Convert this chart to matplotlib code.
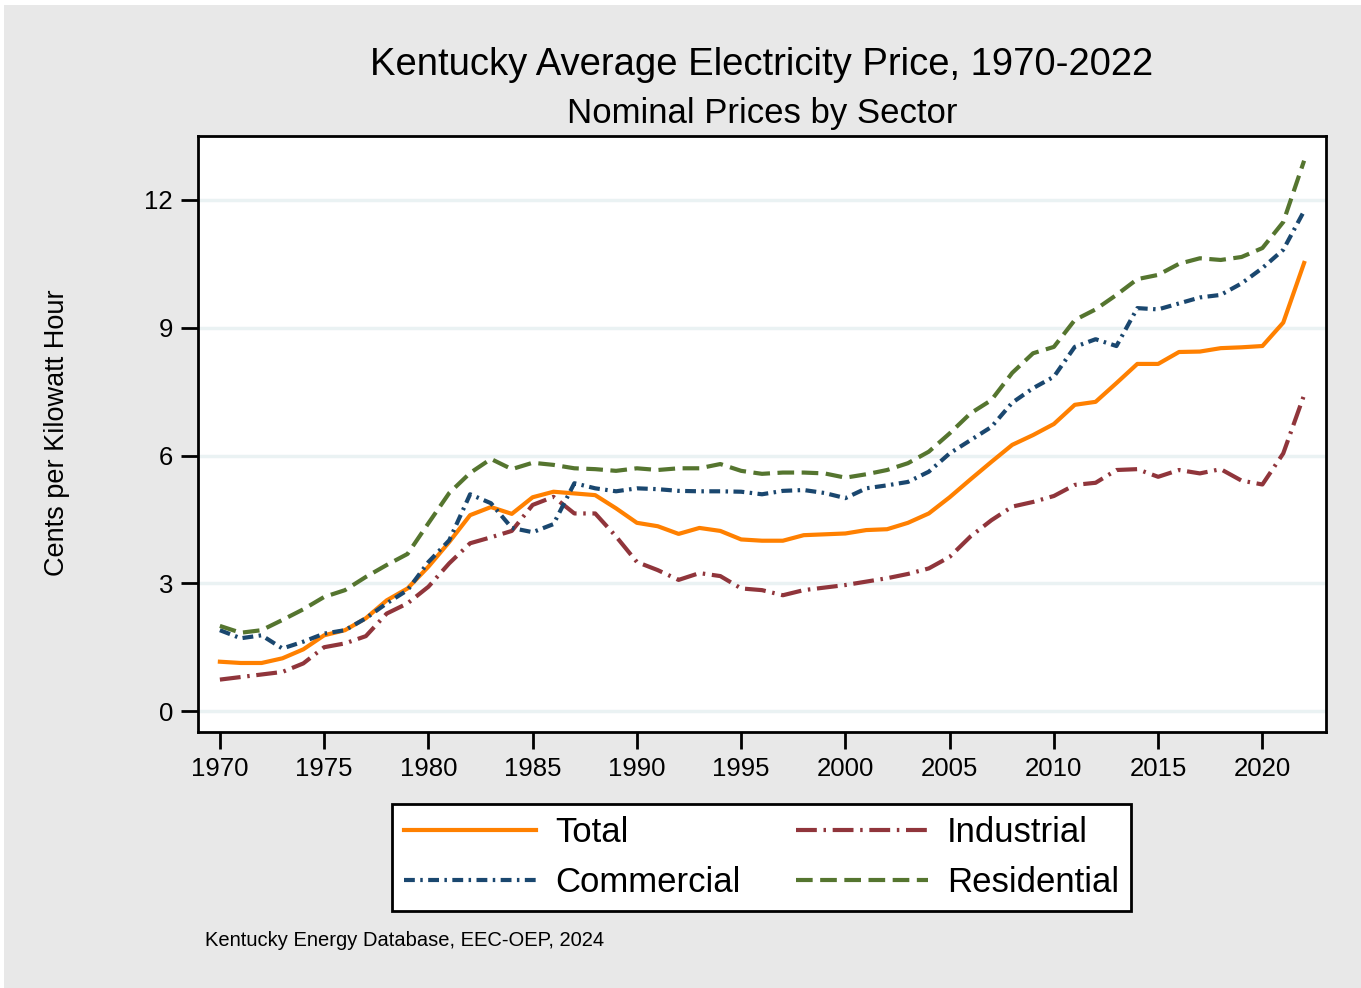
import numpy as np
import matplotlib.pyplot as plt
from matplotlib.patches import Rectangle

years = np.arange(1970, 2023)

total = [1.16, 1.13, 1.13, 1.24, 1.45, 1.78, 1.90, 2.18, 2.60, 2.88,
         3.39, 3.97, 4.60, 4.79, 4.63, 5.02, 5.15, 5.11, 5.07, 4.76,
         4.42, 4.34, 4.16, 4.30, 4.23, 4.03, 4.00, 4.00, 4.13, 4.15,
         4.17, 4.25, 4.27, 4.42, 4.64, 5.02, 5.44, 5.85, 6.25, 6.48,
         6.74, 7.19, 7.26, 7.70, 8.15, 8.15, 8.43, 8.44, 8.52, 8.54,
         8.57, 9.12, 10.52]
industrial = [0.74, 0.80, 0.86, 0.92, 1.12, 1.50, 1.59, 1.76, 2.29, 2.53,
              2.92, 3.47, 3.94, 4.08, 4.23, 4.84, 5.03, 4.64, 4.64, 4.10,
              3.50, 3.31, 3.08, 3.24, 3.17, 2.88, 2.84, 2.72, 2.84, 2.90,
              2.96, 3.04, 3.12, 3.22, 3.35, 3.62, 4.10, 4.48, 4.80, 4.91,
              5.05, 5.31, 5.36, 5.66, 5.68, 5.50, 5.66, 5.58, 5.68, 5.41,
              5.32, 6.05, 7.42]
commercial = [1.90, 1.71, 1.78, 1.47, 1.63, 1.82, 1.90, 2.18, 2.53, 2.84,
              3.50, 4.01, 5.09, 4.88, 4.30, 4.20, 4.39, 5.35, 5.23, 5.16,
              5.23, 5.21, 5.17, 5.16, 5.16, 5.15, 5.09, 5.17, 5.19, 5.12,
              5.00, 5.23, 5.30, 5.38, 5.62, 6.05, 6.36, 6.67, 7.24, 7.58,
              7.85, 8.55, 8.73, 8.57, 9.46, 9.43, 9.57, 9.71, 9.77, 10.04,
              10.40, 10.83, 11.74]
residential = [2.00, 1.84, 1.90, 2.14, 2.39, 2.68, 2.84, 3.15, 3.43, 3.69,
               4.41, 5.12, 5.59, 5.92, 5.68, 5.83, 5.78, 5.70, 5.68, 5.64,
               5.70, 5.66, 5.70, 5.70, 5.80, 5.64, 5.57, 5.60, 5.60, 5.58,
               5.48, 5.56, 5.66, 5.82, 6.09, 6.52, 6.99, 7.30, 7.94, 8.40,
               8.55, 9.18, 9.43, 9.77, 10.14, 10.24, 10.50, 10.63, 10.59, 10.66,
               10.87, 11.48, 12.92]

W, H = 1361, 988
plt.rcParams['font.family'] = ['Liberation Sans', 'DejaVu Sans']

fig = plt.figure(figsize=(W / 100, H / 100), dpi=100, facecolor='white')
fig.patches.append(Rectangle((4 / W, 0), 1 - 4 / W, 1 - 5 / H, transform=fig.transFigure,
                             facecolor='#e8e8e8', edgecolor='none', zorder=-10))

ax = fig.add_axes([198 / W, 1 - 732 / H, (1326 - 198) / W, (732 - 136) / H])
ax.set_facecolor('white')

lw = 3.0
ax.plot(years, total, color='#ff8000', lw=lw, label='Total')
ax.plot(years, industrial, color='#90353b', lw=lw, dashes=(5, 1.6, 0.6, 1.6), label='Industrial')
ax.plot(years, commercial, color='#1a476f', lw=lw, dashes=(2.6, 1.3, 0.6, 1.3), label='Commercial')
ax.plot(years, residential, color='#55752f', lw=lw, dashes=(4, 1.8), label='Residential')

ax.set_xlim(1968.95, 2023.05)
ax.set_ylim(-0.49, 13.5)
ax.set_xticks(np.arange(1970, 2021, 5))
ax.set_yticks([0, 3, 6, 9, 12])
ax.grid(axis='y', color='#eaf2f3', lw=2.5, zorder=0)
ax.set_axisbelow(True)
ax.tick_params(axis='both', direction='out', length=12, width=2, labelsize=18.5, pad=6)
for s in ax.spines.values():
    s.set_linewidth(2)

fig.text(57 / W, 1 - 433 / H, 'Cents per Kilowatt Hour', rotation=90,
         ha='center', va='center', fontsize=19.5)

fig.text(762 / W, 1 - 65 / H, 'Kentucky Average Electricity Price, 1970-2022',
         ha='center', va='center', fontsize=27.5)
fig.text(762 / W, 1 - 113 / H, 'Nominal Prices by Sector',
         ha='center', va='center', fontsize=25)
fig.text(205 / W, 1 - 940 / H, 'Kentucky Energy Database, EEC-OEP, 2024',
         ha='left', va='center', fontsize=14.5)

handles, labels = ax.get_legend_handles_labels()
order = [0, 2, 1, 3]
leg = fig.legend([handles[i] for i in order], [labels[i] for i in order],
                 loc='center', bbox_to_anchor=(761.5 / W, 1 - 857.5 / H), ncol=2,
                 fontsize=25, frameon=True, fancybox=False, framealpha=1,
                 handlelength=3.8, columnspacing=1.6, handletextpad=0.55,
                 labelspacing=0.5, borderpad=0.35)
leg.get_frame().set_edgecolor('black')
leg.get_frame().set_linewidth(2)
leg.get_frame().set_facecolor('white')

fig.savefig('out.png', dpi=100, facecolor=fig.get_facecolor())
